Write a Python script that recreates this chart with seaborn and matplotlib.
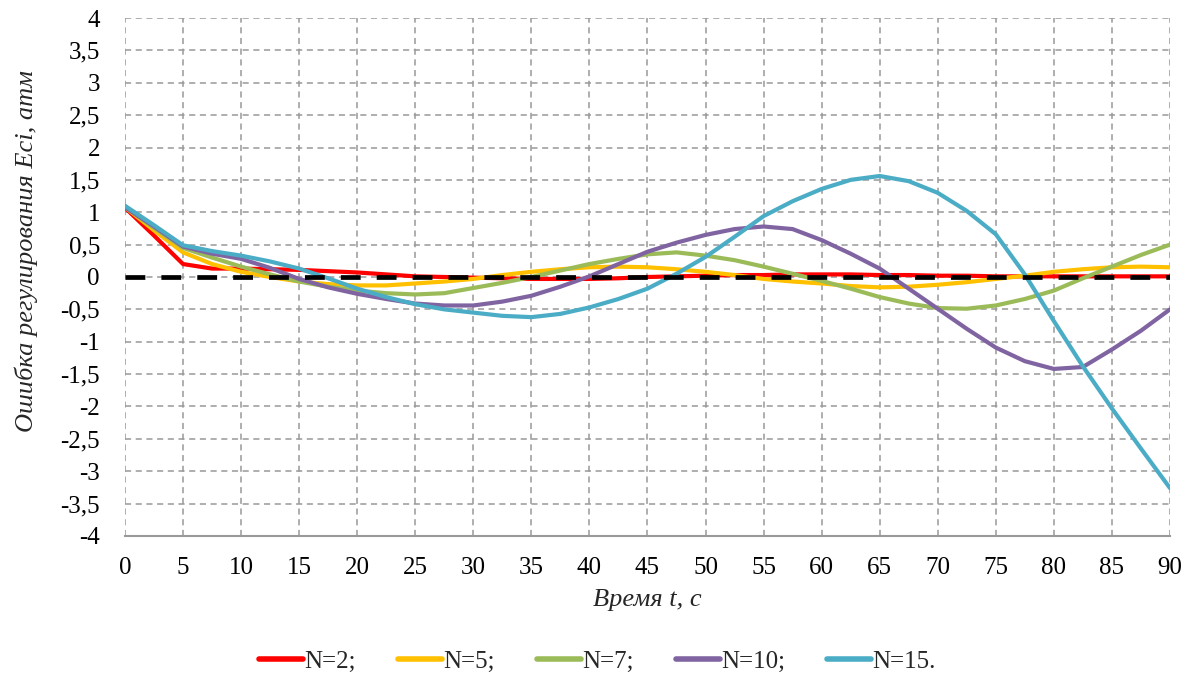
import numpy as np
import pandas as pd
import matplotlib
matplotlib.use("Agg")
import matplotlib.pyplot as plt
import seaborn as sns

t = [0, 2.5, 5, 7.5, 10, 12.5, 15, 17.5, 20, 22.5, 25, 27.5, 30, 32.5, 35, 37.5,
     40, 42.5, 45, 47.5, 50, 52.5, 55, 57.5, 60, 62.5, 65, 67.5, 70, 72.5, 75,
     77.5, 80, 82.5, 85, 87.5, 90]

n2 = [1.07, 0.64, 0.2, 0.13, 0.13, 0.12, 0.11, 0.09, 0.07, 0.04, 0.01, 0.0,
      -0.01, -0.02, -0.03, -0.03, -0.03, -0.02, 0.0, 0.01, 0.02, 0.03, 0.03,
      0.04, 0.04, 0.04, 0.03, 0.03, 0.02, 0.02, 0.01, 0.01, 0.01, 0.01, 0.01,
      0.01, 0.01]
n5 = [1.08, 0.72, 0.38, 0.2, 0.08, 0.0, -0.07, -0.11, -0.13, -0.13, -0.1, -0.07,
      -0.03, 0.03, 0.08, 0.12, 0.15, 0.16, 0.15, 0.12, 0.08, 0.03, -0.03, -0.07,
      -0.1, -0.14, -0.16, -0.15, -0.12, -0.08, -0.03, 0.02, 0.08, 0.12, 0.15,
      0.16, 0.15]
n7 = [1.08, 0.76, 0.45, 0.3, 0.16, 0.04, -0.07, -0.15, -0.21, -0.25, -0.27,
      -0.25, -0.17, -0.09, 0.0, 0.1, 0.2, 0.28, 0.35, 0.38, 0.33, 0.26, 0.16,
      0.05, -0.06, -0.18, -0.31, -0.41, -0.48, -0.49, -0.44, -0.34, -0.21,
      -0.02, 0.16, 0.34, 0.5]
n10 = [1.08, 0.78, 0.47, 0.36, 0.28, 0.14, -0.03, -0.16, -0.26, -0.34, -0.41,
       -0.44, -0.44, -0.38, -0.29, -0.15, 0.01, 0.2, 0.39, 0.53, 0.65, 0.74,
       0.78, 0.74, 0.57, 0.36, 0.13, -0.18, -0.49, -0.8, -1.09, -1.3, -1.42,
       -1.39, -1.12, -0.83, -0.5]
n15 = [1.1, 0.8, 0.49, 0.4, 0.33, 0.24, 0.13, -0.02, -0.18, -0.31, -0.42, -0.5,
       -0.55, -0.6, -0.62, -0.57, -0.47, -0.34, -0.18, 0.05, 0.31, 0.62, 0.94,
       1.17, 1.36, 1.5, 1.56, 1.48, 1.3, 1.02, 0.66, 0.04, -0.68, -1.38, -2.03,
       -2.65, -3.26]

labels = ["N=2;", "N=5;", "N=7;", "N=10;", "N=15."]
colors = ["#FF0000", "#FFC000", "#9BBB59", "#8064A2", "#4BACC6"]
x_ticks = list(range(0, 95, 5))
y_ticks = [-4, -3.5, -3, -2.5, -2, -1.5, -1, -0.5, 0, 0.5, 1, 1.5, 2, 2.5, 3, 3.5, 4]

df = pd.DataFrame({"t": t * 5,
                   "E": n2 + n5 + n7 + n10 + n15,
                   "N": sum([[l] * len(t) for l in labels], [])})

sns.set_theme(style="white")
plt.rcParams["font.family"] = ["Liberation Serif", "DejaVu Serif"]

fig = plt.figure(figsize=(11.97, 6.77), dpi=100)
ax = fig.add_axes([0.1044, 0.2083, 0.8730, 0.7651])

for xv in x_ticks:
    ax.axvline(xv, color="#999999", lw=1.1, ls=(0, (4, 3)), zorder=0)
for yv in y_ticks:
    ax.axhline(yv, color="#999999", lw=1.1, ls=(0, (4, 3)), zorder=0)

sns.lineplot(data=df, x="t", y="E", hue="N", palette=colors, hue_order=labels,
             linewidth=3, ax=ax, zorder=3)
ax.plot([0, 90], [0, 0], color="black", lw=3.4, ls=(0, (4.2, 3.4)), zorder=4)

ax.set_xlim(0, 90)
ax.set_ylim(-4, 4)
ax.set_xticks(x_ticks)
ax.set_yticks(y_ticks)
ax.set_xticklabels([str(v) for v in x_ticks])
ax.set_yticklabels([("%g" % v).replace(".", ",") for v in y_ticks])
ax.tick_params(axis="both", labelsize=18, length=0, colors="black")
ax.tick_params(axis="x", pad=15)
ax.tick_params(axis="y", pad=18)

for s in ["top", "right", "left"]:
    ax.spines[s].set_visible(False)
ax.spines["bottom"].set_color("#999999")
ax.spines["bottom"].set_linewidth(1.5)

ax.set_xlabel("Время t, с", fontsize=19, style="italic")
ax.xaxis.set_label_coords(0.5, -0.103)
ax.xaxis.label.set_va("top")
ax.set_ylabel("Ошибка регулирования Eci, атм", fontsize=19, style="italic")
ax.yaxis.set_label_coords(-0.083, 0.55)

handles, lbls = ax.get_legend_handles_labels()
for h in handles:
    h.set_linewidth(4)
ax.legend(handles, lbls, loc="center", bbox_to_anchor=(0.452, -0.243),
          ncol=5, frameon=False, fontsize=18, handlelength=1.75,
          handletextpad=0.05, columnspacing=1.7)

fig.savefig("out.png", dpi=100)
